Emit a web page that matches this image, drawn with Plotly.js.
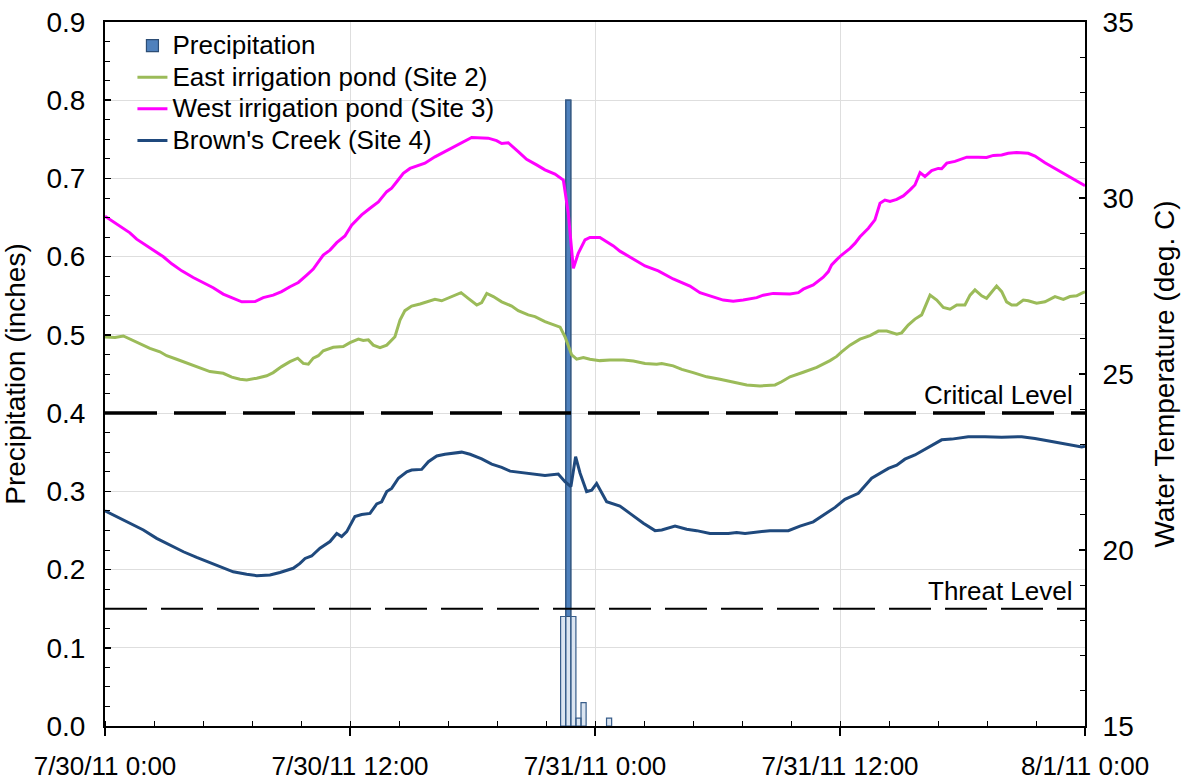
<!DOCTYPE html>
<html><head><meta charset="utf-8">
<script src="https://cdn.plot.ly/plotly-3.0.1.min.js"></script>
<style>body{margin:0;background:#fff} #chart{width:1183px;height:780px}</style>
</head><body><div id="chart"></div>
<script>
// ---- data (hours after 7/30/11 0:00) ----
const precipHours  = [22.44, 22.69, 22.94, 23.19, 23.44, 24.69];
const precipInches = [0.14, 0.80, 0.14, 0.01, 0.03, 0.01];

const eastHours = [0,0.49,0.90,1.31,1.71,2.20,2.69,3.02,3.51,4.08,4.65,5.14,5.79,6.21,6.61,6.94,7.43,7.92,8.24,8.65,9.06,9.44,9.71,9.96,10.20,10.45,10.69,11.18,11.67,12.00,12.41,12.65,12.90,13.14,13.47,13.80,14.20,14.45,14.69,15.02,15.43,15.76,16.16,16.49,16.98,17.44,17.79,18.21,18.45,18.70,19.02,19.43,19.92,20.24,20.73,21.06,21.55,22.04,22.29,22.53,22.86,23.10,23.43,23.75,24.24,24.73,25.39,25.88,26.45,27.02,27.27,27.83,28.25,28.81,29.47,30.12,30.77,31.43,32.08,32.82,33.14,33.55,34.20,34.86,35.51,35.84,36.08,36.49,36.98,37.47,37.88,38.29,38.78,39.02,39.34,39.67,40.00,40.41,40.74,41.06,41.39,41.72,42.12,42.37,42.61,42.94,43.18,43.43,43.67,43.92,44.16,44.41,44.65,44.98,45.22,45.63,46.04,46.53,46.94,47.26,47.59,47.92,48];
const eastTemp  = [26.05,26.04,26.08,25.97,25.85,25.73,25.63,25.52,25.42,25.30,25.16,25.07,25.02,24.91,24.85,24.83,24.88,24.95,25.04,25.21,25.35,25.45,25.30,25.28,25.45,25.52,25.66,25.76,25.78,25.89,25.99,25.95,25.97,25.82,25.75,25.82,26.06,26.53,26.80,26.93,26.99,27.05,27.12,27.08,27.20,27.31,27.15,26.96,27.03,27.29,27.20,27.05,26.93,26.80,26.68,26.63,26.49,26.39,26.33,26.06,25.54,25.42,25.47,25.42,25.38,25.40,25.40,25.37,25.30,25.28,25.30,25.23,25.13,25.04,24.92,24.85,24.76,24.69,24.66,24.69,24.78,24.92,25.05,25.19,25.38,25.50,25.63,25.82,25.99,26.09,26.22,26.22,26.13,26.17,26.39,26.56,26.68,27.24,27.10,26.89,26.84,26.96,26.96,27.24,27.39,27.22,27.15,27.34,27.50,27.34,27.05,26.96,26.96,27.10,27.08,27.01,27.05,27.20,27.12,27.20,27.22,27.32,27.33];

const westHours = [0,0.41,0.82,1.22,1.55,2.29,2.86,3.27,3.76,4.32,4.82,5.30,5.79,6.28,6.70,7.35,7.75,8.24,8.65,9.06,9.47,9.88,10.20,10.69,11.02,11.35,11.75,12.08,12.57,12.98,13.39,13.80,14.04,14.29,14.61,14.94,15.67,16.16,16.65,17.14,17.55,17.96,18.77,19.18,19.43,19.75,20.24,20.65,21.14,21.55,22.04,22.45,22.69,22.94,23.18,23.51,23.75,24.24,24.57,24.90,25.22,25.71,26.45,27.10,27.83,28.65,29.14,29.63,30.28,30.77,31.26,31.92,32.24,32.73,33.55,33.96,34.20,34.69,35.18,35.43,35.59,35.84,36.08,36.49,36.73,36.98,37.39,37.71,37.96,38.20,38.45,38.78,39.10,39.43,39.67,39.92,40.16,40.49,40.81,40.98,41.23,41.63,41.96,42.21,42.77,43.18,43.51,43.92,44.24,44.65,45.22,45.55,46.04,46.69,47.18,47.92,48];
const westTemp  = [29.48,29.33,29.17,29.01,28.83,28.54,28.33,28.13,27.93,27.74,27.59,27.45,27.27,27.14,27.05,27.06,27.17,27.24,27.34,27.48,27.60,27.81,27.98,28.38,28.52,28.73,28.92,29.23,29.52,29.71,29.89,30.18,30.28,30.46,30.70,30.84,30.99,31.17,31.32,31.46,31.60,31.72,31.70,31.63,31.55,31.57,31.32,31.10,30.94,30.80,30.68,30.51,29.57,28.00,28.43,28.81,28.88,28.88,28.76,28.64,28.49,28.32,28.07,27.93,27.70,27.50,27.31,27.22,27.10,27.07,27.10,27.17,27.24,27.29,27.27,27.31,27.41,27.53,27.75,27.91,28.10,28.25,28.38,28.57,28.71,28.90,29.14,29.38,29.85,29.94,29.90,29.96,30.06,30.23,30.37,30.72,30.61,30.78,30.84,30.83,30.99,31.04,31.12,31.16,31.16,31.15,31.21,31.22,31.27,31.29,31.27,31.19,31.00,30.78,30.63,30.37,30.35];

const brownHours = [0,0.57,0.98,1.39,1.88,2.53,3.18,3.84,4.49,5.14,5.79,6.28,6.94,7.43,8.08,8.57,9.22,9.55,9.80,10.12,10.53,11.02,11.35,11.59,11.84,12.08,12.24,12.57,12.98,13.31,13.55,13.80,14.04,14.37,14.78,15.02,15.51,15.84,16.25,16.65,17.06,17.47,17.88,18.45,18.94,19.43,19.84,20.57,21.55,22.20,22.53,22.82,23.05,23.27,23.59,23.84,24.08,24.57,24.90,25.22,25.71,26.37,26.94,27.27,27.92,28.49,28.98,29.63,30.53,30.94,31.35,31.92,32.57,33.47,34.04,34.69,35.18,35.76,36.24,36.65,36.90,37.55,38.04,38.37,38.78,39.18,39.67,40.32,40.98,41.47,42.28,43.10,43.92,44.90,45.55,46.37,47.18,47.84,48];
const brownTemp  = [21.11,20.95,20.83,20.71,20.57,20.33,20.14,19.95,19.79,19.64,19.48,19.38,19.31,19.27,19.29,19.36,19.48,19.62,19.76,19.83,20.05,20.24,20.47,20.38,20.52,20.80,20.95,21.01,21.04,21.31,21.37,21.66,21.75,22.04,22.22,22.27,22.29,22.51,22.67,22.72,22.75,22.78,22.72,22.59,22.44,22.35,22.24,22.18,22.12,22.16,21.94,21.80,22.65,22.18,21.66,21.70,21.89,21.37,21.31,21.25,21.04,20.76,20.55,20.57,20.68,20.59,20.55,20.47,20.47,20.50,20.47,20.50,20.55,20.55,20.68,20.80,20.99,21.21,21.44,21.56,21.61,22.04,22.20,22.32,22.41,22.58,22.70,22.92,23.13,23.15,23.22,23.22,23.20,23.22,23.17,23.08,23.00,22.93,22.95];

const criticalLevel = 0.4;   // inches-axis position of the Critical Level line
const threatLevel   = 0.15;  // inches-axis position of the Threat Level line

const xTickHours  = [0, 12, 24, 36, 48];
const xTickLabels = ['7/30/11 0:00', '7/30/11 12:00', '7/31/11 0:00', '7/31/11 12:00', '8/1/11 0:00'];

// ---- helpers ----
const T0 = Date.UTC(2011, 6, 30, 0, 0, 0);
function toDate(h) {
  const d = new Date(T0 + Math.round(h * 3600000));
  return d.toISOString().slice(0, 19).replace('T', ' ');
}
const FONT = 'Liberation Sans, Arial, Helvetica, sans-serif';
const shadeSplit = 0.14;        // colour change inside the bars (gradient look)
const barWidthMs = 15 * 60 * 1000;
const big = s => '<span style="font-size:26px">' + s + '</span>';

const pX = precipHours.map(toDate);
const lightPart = precipInches.map(v => Math.min(v, shadeSplit));
const darkPart  = precipInches.map(v => v > shadeSplit ? v - shadeSplit : null);

const traces = [
  { type: 'bar', x: pX, y: lightPart, base: 0, width: barWidthMs,
    marker: { color: '#dbe5f1', line: { width: 0 } }, showlegend: false, hoverinfo: 'skip' },
  { type: 'bar', x: pX, y: darkPart, base: shadeSplit, width: barWidthMs, name: big('Precipitation'),
    marker: { color: '#4f81bd', line: { color: '#2c4d75', width: 1.2 } }, showlegend: true },
  { type: 'bar', x: pX, y: precipInches, base: 0, width: barWidthMs,
    marker: { color: 'rgba(0,0,0,0)', line: { color: '#385d8a', width: 1.2 } }, showlegend: false, hoverinfo: 'skip' },
  { type: 'scatter', mode: 'lines', name: big('East irrigation pond (Site 2)'), x: eastHours.map(toDate), y: eastTemp,
    yaxis: 'y2', line: { color: '#9bbb59', width: 3 } },
  { type: 'scatter', mode: 'lines', name: big('West irrigation pond (Site 3)'), x: westHours.map(toDate), y: westTemp,
    yaxis: 'y2', line: { color: '#ff00ff', width: 3 } },
  { type: 'scatter', mode: 'lines', name: big("Brown's Creek (Site 4)"), x: brownHours.map(toDate), y: brownTemp,
    yaxis: 'y2', line: { color: '#1f497d', width: 3 } }
];

const tickVals = xTickHours.map(toDate);
const layout = {
  width: 1183, height: 780,
  margin: { l: 105, r: 98, t: 22, b: 54 },
  paper_bgcolor: '#fff', plot_bgcolor: '#fff',
  font: { family: FONT, size: 26, color: '#000' },
  barmode: 'overlay', bargap: 0,
  showlegend: true,
  legend: { x: 0.028, y: 0.996, xanchor: 'left', yanchor: 'top', bgcolor: 'rgba(0,0,0,0)',
            font: { family: FONT, size: 22, color: '#000' }, tracegroupgap: 0, itemwidth: 30 },
  xaxis: {
    type: 'date', range: [toDate(0), toDate(48)],
    tickmode: 'array', tickvals: tickVals, ticktext: xTickLabels,
    ticks: 'outside', ticklen: 8, tickwidth: 2, tickcolor: '#000',
    showline: true, linecolor: '#000', linewidth: 2, mirror: true,
    showgrid: true, gridcolor: '#dedede', gridwidth: 1, zeroline: false,
    tickfont: { family: FONT, size: 26 }, ticklabelstandoff: 8,
    minor: { tick0: toDate(0), dtick: 2.4 * 3600000, ticks: 'inside', ticklen: 5, tickwidth: 1, tickcolor: '#000', showgrid: false }
  },
  xaxis2: {
    type: 'date', overlaying: 'x', side: 'top', anchor: 'y', range: [toDate(0), toDate(48)],
    tickmode: 'array', tickvals: tickVals, showticklabels: false,
    ticks: 'inside', ticklen: 6, tickwidth: 2, tickcolor: '#000', showgrid: false, showline: false, zeroline: false,
    minor: { tick0: toDate(0), dtick: 2.4 * 3600000, ticks: 'inside', ticklen: 5, tickwidth: 1, tickcolor: '#000', showgrid: false }
  },
  yaxis: {
    range: [0, 0.9], dtick: 0.1, tickformat: '.1f',
    ticks: 'inside', ticklen: 6, tickwidth: 1.5, tickcolor: '#000',
    showline: true, linecolor: '#000', linewidth: 2,
    showgrid: true, gridcolor: '#dedede', gridwidth: 1, zeroline: false,
    tickfont: { family: FONT, size: 28 }, ticklabelstandoff: 12,
    minor: { dtick: 0.025, ticks: 'inside', ticklen: 5, tickwidth: 1, tickcolor: '#000', showgrid: false },
    title: { text: 'Precipitation (inches)', font: { family: FONT, size: 28 }, standoff: 14 }
  },
  yaxis2: {
    overlaying: 'y', side: 'right', range: [15, 35], dtick: 5,
    ticks: 'inside', ticklen: 6, tickwidth: 1.5, tickcolor: '#000',
    showline: true, linecolor: '#000', linewidth: 2, showgrid: false, zeroline: false,
    tickfont: { family: FONT, size: 28 }, ticklabelstandoff: 10,
    minor: { dtick: 1, ticks: 'inside', ticklen: 5, tickwidth: 1, tickcolor: '#000', showgrid: false },
    title: { text: 'Water Temperature (deg. C)', font: { family: FONT, size: 28 }, standoff: 22 }
  },
  shapes: [
    { type: 'line', xref: 'paper', x0: 0, x1: 1, yref: 'y', y0: criticalLevel, y1: criticalLevel,
      line: { color: '#000', width: 3.5, dash: '52px,17px' } },
    { type: 'line', xref: 'paper', x0: 0, x1: 1, yref: 'y', y0: threatLevel, y1: threatLevel,
      line: { color: '#000', width: 2, dash: '42px,14px' } }
  ],
  annotations: [
    { text: 'Critical Level', xref: 'paper', x: 0.99, xanchor: 'right', yref: 'y', y: criticalLevel,
      yanchor: 'bottom', yshift: 1, showarrow: false, font: { family: FONT, size: 26 } },
    { text: 'Threat Level', xref: 'paper', x: 0.99, xanchor: 'right', yref: 'y', y: threatLevel,
      yanchor: 'bottom', yshift: 1, showarrow: false, font: { family: FONT, size: 26 } }
  ]
};

Plotly.newPlot('chart', traces, layout, { displayModeBar: false, staticPlot: true });
</script></body></html>
